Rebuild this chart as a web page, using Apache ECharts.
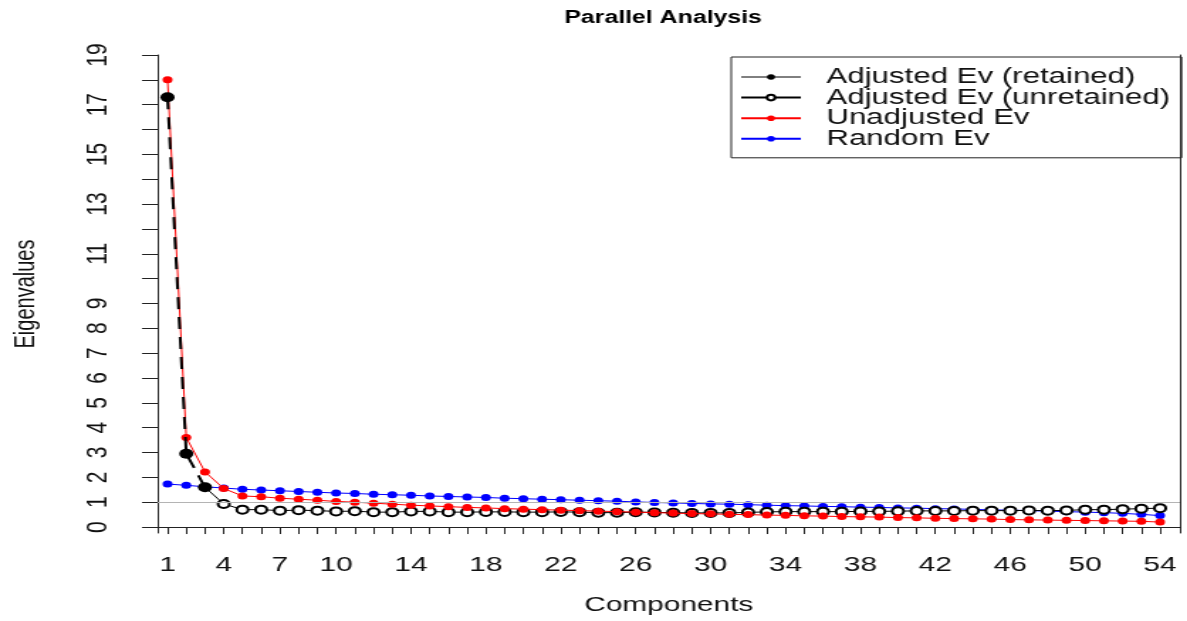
<!DOCTYPE html>
<html>
<head>
<meta charset="utf-8">
<script src="https://cdn.jsdelivr.net/npm/echarts@6/dist/echarts.min.js"></script>
<style>
	html, body { margin: 0; padding: 0; background: #fff; overflow: hidden; }
	/* the source picture is an R plot stretched sideways, so we draw narrow and stretch */
	#chart { width: 836px; height: 621px; transform: scaleX(1.4199); transform-origin: 0 0; }
</style>
</head>
<body>
<div id="chart"></div>
<script>
	'use strict';

	var components = [1, 2, 3, 4, 5, 6, 7, 8, 9, 10, 11, 12, 13, 14, 15, 16, 17, 18,
		19, 20, 21, 22, 23, 24, 25, 26, 27, 28, 29, 30, 31, 32, 33, 34, 35, 36,
		37, 38, 39, 40, 41, 42, 43, 44, 45, 46, 47, 48, 49, 50, 51, 52, 53, 54];

	var retainedComp = [1, 2, 3];
	var retainedEv = [17.3, 2.95, 1.6];

	var unretainedComp = [4, 5, 6, 7, 8, 9, 10, 11, 12, 13, 14, 15, 16, 17, 18, 19, 20,
		21, 22, 23, 24, 25, 26, 27, 28, 29, 30, 31, 32, 33, 34, 35, 36, 37, 38, 39,
		40, 41, 42, 43, 44, 45, 46, 47, 48, 49, 50, 51, 52, 53, 54];
	var unretainedEv = [0.93, 0.70, 0.70, 0.66, 0.68, 0.66, 0.63, 0.64, 0.60, 0.60,
		0.63, 0.63, 0.60, 0.60, 0.61, 0.61, 0.60, 0.60, 0.61, 0.60, 0.58, 0.58,
		0.60, 0.59, 0.58, 0.57, 0.57, 0.57, 0.59, 0.61, 0.62, 0.62, 0.62, 0.62,
		0.63, 0.63, 0.64, 0.65, 0.65, 0.65, 0.66, 0.66, 0.66, 0.67, 0.66, 0.67,
		0.70, 0.70, 0.72, 0.74, 0.76];

	var unadjustedEv = [18.0, 3.6, 2.22, 1.55, 1.25, 1.22, 1.16, 1.12, 1.08, 1.03,
		1.00, 0.96, 0.92, 0.88, 0.85, 0.82, 0.79, 0.77, 0.74, 0.72, 0.70, 0.68,
		0.66, 0.64, 0.62, 0.60, 0.58, 0.56, 0.54, 0.53, 0.51, 0.50, 0.48, 0.47,
		0.45, 0.44, 0.42, 0.41, 0.40, 0.38, 0.37, 0.35, 0.34, 0.33, 0.32, 0.30,
		0.29, 0.28, 0.27, 0.26, 0.25, 0.24, 0.23, 0.20];

	var randomEv = [1.73, 1.68, 1.62, 1.57, 1.52, 1.49, 1.46, 1.43, 1.40, 1.37,
		1.35, 1.32, 1.30, 1.28, 1.25, 1.23, 1.21, 1.19, 1.16, 1.14, 1.12, 1.10,
		1.08, 1.06, 1.04, 1.01, 0.99, 0.97, 0.95, 0.93, 0.92, 0.90, 0.88, 0.86,
		0.85, 0.83, 0.82, 0.80, 0.79, 0.77, 0.76, 0.74, 0.73, 0.71, 0.69, 0.68,
		0.66, 0.64, 0.62, 0.60, 0.58, 0.55, 0.51, 0.46];

	var xTickValues = components;
	var xLabelValues = [1, 4, 7, 10, 14, 18, 22, 26, 30, 34, 38, 42, 46, 50, 54];
	var yTickValues = [0, 1, 2, 3, 4, 5, 6, 7, 8, 9, 10, 11, 12, 13, 14, 15, 16, 17, 18, 19];
	var yLabelValues = [0, 1, 2, 3, 4, 5, 6, 7, 8, 9, 11, 13, 15, 17, 19];

	var FONT = '"Liberation Sans", Arial, sans-serif';

	function pairs(xs, ys) {
		return xs.map(function (x, i) { return [x, ys[i]]; });
	}

	// the unretained line starts from the last retained point
	var unretainedData = [{
		value: [retainedComp[retainedComp.length - 1], retainedEv[retainedEv.length - 1]],
		symbol: 'none'
	}].concat(pairs(unretainedComp, unretainedEv));

	var chart = echarts.init(document.getElementById('chart'), null, { renderer: 'canvas' });

	var option = {
		animation: false,
		backgroundColor: '#fff',
		title: {
			text: 'Parallel Analysis',
			left: 462,
			textAlign: 'center',
			top: 4,
			textStyle: { fontFamily: FONT, fontSize: 17.5, fontWeight: 'bold', color: '#000' }
		},
		legend: {
			orient: 'vertical',
			left: 515,
			top: 57,
			padding: [9, 8, 8, 6],
			itemGap: -1.4,
			itemWidth: 42,
			itemHeight: 7,
			borderColor: '#222',
			borderWidth: 1,
			borderRadius: 0,
			textStyle: {
				fontFamily: FONT, fontSize: 22, color: '#111',
				lineHeight: 19, padding: [0, 0, 0, 13]
			},
			data: [
				{ name: 'Adjusted Ev (retained)', lineStyle: { type: 'solid', width: 1 } },
				'Adjusted Ev (unretained)',
				'Unadjusted Ev',
				'Random Ev'
			]
		},
		grid: { left: 108, right: 5, top: 55, bottom: 88, show: false },
		xAxis: [{
			type: 'value',
			position: 'bottom',
			min: 0.47,
			max: 55.06,
			axisLine: { show: true, lineStyle: { color: '#222', width: 1 } },
			axisTick: { show: false },
			axisLabel: { show: false },
			splitLine: { show: false }
		}, {
			type: 'value',
			position: 'bottom',
			offset: 5,
			min: 0.47,
			max: 55.06,
			name: 'Components',
			nameLocation: 'middle',
			nameGap: 57,
			nameTextStyle: { fontFamily: FONT, fontSize: 21, color: '#111' },
			axisLine: { show: true, lineStyle: { color: '#222', width: 1 } },
			axisTick: { show: true, length: 7, customValues: xTickValues, lineStyle: { color: '#222' } },
			axisLabel: {
				show: true, customValues: xLabelValues, margin: 17,
				fontFamily: FONT, fontSize: 21, color: '#111'
			},
			splitLine: { show: false }
		}],
		yAxis: [{
			type: 'value',
			position: 'left',
			min: -0.24,
			max: 19,
			name: 'Eigenvalues',
			nameLocation: 'middle',
			nameRotate: 90,
			nameGap: 83,
			nameTextStyle: { fontFamily: FONT, fontSize: 20, color: '#111' },
			axisLine: { show: true, lineStyle: { color: '#222', width: 1 } },
			axisTick: { show: true, length: 11, customValues: yTickValues, lineStyle: { color: '#222' } },
			axisLabel: {
				show: true, customValues: yLabelValues, rotate: 90, margin: 31,
				fontFamily: FONT, fontSize: 21, color: '#111'
			},
			splitLine: { show: false }
		}, {
			type: 'value',
			position: 'right',
			min: -0.24,
			max: 19,
			axisLine: { show: true, lineStyle: { color: '#222', width: 1 } },
			axisTick: { show: false },
			axisLabel: { show: false },
			splitLine: { show: false }
		}],
		series: [{
			name: 'Random Ev',
			type: 'line',
			z: 2,
			data: pairs(components, randomEv),
			symbol: 'circle',
			symbolSize: 7,
			showAllSymbol: true,
			itemStyle: { color: '#0000ff' },
			lineStyle: { color: '#0000ff', width: 1 },
			markLine: {
				silent: true,
				symbol: ['none', 'none'],
				label: { show: false },
				lineStyle: { color: '#b4b4b4', width: 1, type: 'solid' },
				data: [{ yAxis: 1 }]
			}
		}, {
			name: 'Adjusted Ev (unretained)',
			type: 'line',
			z: 3,
			data: unretainedData,
			symbol: 'emptyCircle',
			symbolSize: 8,
			showAllSymbol: true,
			itemStyle: { color: '#000', borderColor: '#000', borderWidth: 1 },
			lineStyle: { color: '#000', width: 1 }
		}, {
			name: 'Unadjusted Ev',
			type: 'line',
			z: 4,
			data: pairs(components, unadjustedEv),
			symbol: 'circle',
			symbolSize: 7,
			showAllSymbol: true,
			itemStyle: { color: '#ff0000' },
			lineStyle: { color: '#ff0000', width: 1 }
		}, {
			name: 'Adjusted Ev (retained)',
			type: 'line',
			z: 5,
			data: pairs(retainedComp, retainedEv),
			symbol: 'circle',
			symbolSize: 10,
			itemStyle: { color: '#000' },
			lineStyle: { color: '#000', width: 2, type: [12, 8] }
		}]
	};

	chart.setOption(option);
</script>
</body>
</html>
